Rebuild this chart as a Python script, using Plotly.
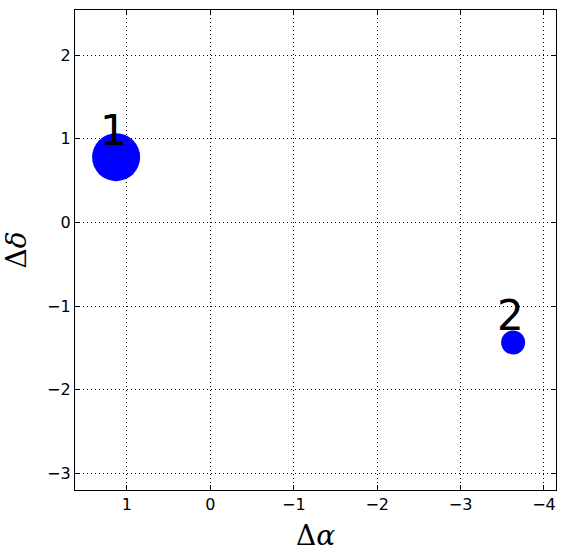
import plotly.graph_objects as go

# offsets of the sources
ids = ["1", "2"]
d_alpha = [1.13, -3.63]
d_delta = [0.78, -1.435]
rel_size = [2.0, 1.0]

tick_x = [1, 0, -1, -2, -3, -4]
tick_y = [2, 1, 0, -1, -2, -3]

fig = go.Figure()
fig.add_trace(
    go.Scatter(
        x=d_alpha,
        y=d_delta,
        mode="markers",
        marker=dict(
            size=[24 * s for s in rel_size],
            color="blue",
            opacity=1,
            line=dict(width=0),
        ),
        showlegend=False,
        hoverinfo="skip",
    )
)

for name, xa, yd in zip(ids, d_alpha, d_delta):
    fig.add_annotation(
        x=xa,
        y=yd,
        text=name,
        showarrow=False,
        xanchor="center",
        yanchor="middle",
        xshift=-3,
        yshift=27,
        font=dict(family="DejaVu Sans", size=42, color="black"),
    )

axis_common = dict(
    showgrid=True,
    gridcolor="black",
    griddash="1px,3px",
    gridwidth=1,
    zeroline=False,
    showline=True,
    linecolor="black",
    linewidth=1.3,
    mirror="ticks",
    ticks="inside",
    ticklen=5,
    tickcolor="black",
    tickfont=dict(family="DejaVu Sans", size=16, color="black"),
)

fig.update_layout(
    xaxis=dict(
        axis_common,
        range=[1.623, -4.144],
        tickvals=tick_x,
        title=dict(
            text="Δ<i>α</i>",
            font=dict(family="DejaVu Serif", size=28, color="black"),
            standoff=12,
        ),
    ),
    yaxis=dict(
        axis_common,
        range=[-3.2, 2.54],
        tickvals=tick_y,
        title=dict(
            text="Δ<i>δ</i>",
            font=dict(family="DejaVu Serif", size=28, color="black"),
            standoff=14,
        ),
    ),
    plot_bgcolor="white",
    paper_bgcolor="white",
    width=566,
    height=558,
    margin=dict(l=75, r=10, t=10, b=68),
)

fig.write_html(
    "out.html",
    config={"displayModeBar": False},
    post_script="document.body.style.margin='0';",
)
